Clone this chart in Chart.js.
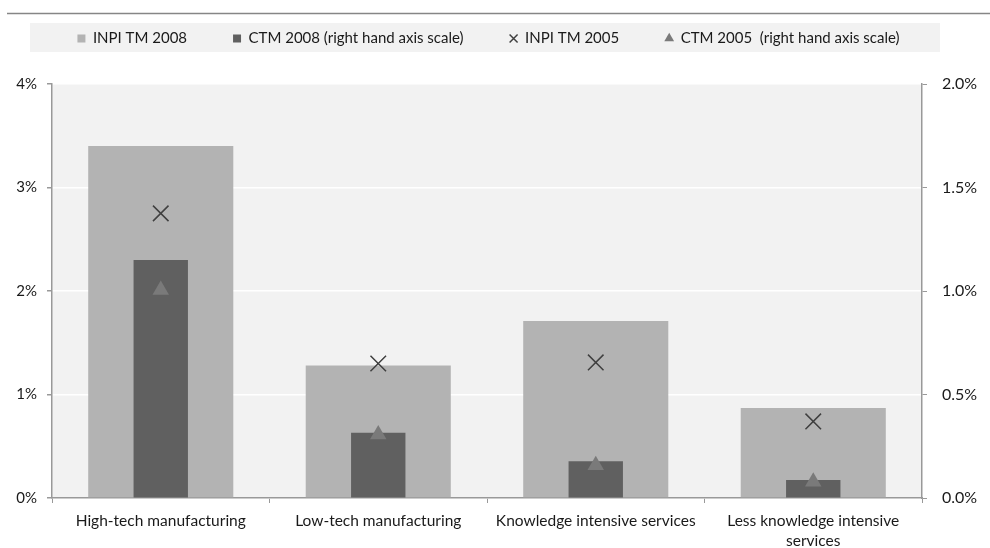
<!DOCTYPE html>
<html>
<head>
<meta charset="utf-8">
<script src="https://cdn.jsdelivr.net/npm/chart.js@4"></script>
<style>
html,body{margin:0;padding:0;background:#fff;}
#wrap{width:990px;height:548px;}
</style>
</head>
<body>
<div id="wrap"><canvas id="c" width="990" height="548"></canvas></div>
<script>
const categories = ["High-tech manufacturing", "Low-tech manufacturing", "Knowledge intensive services", ["Less knowledge intensive", "services"]];
const inpi2008 = [3.40, 1.28, 1.71, 0.87];      // left axis, %
const ctm2008 = [1.15, 0.315, 0.177, 0.087];    // right axis, %
const inpi2005 = [2.75, 1.30, 1.31, 0.74];      // left axis, %
const ctm2005 = [1.005, 0.307, 0.158, 0.078];   // right axis, %
const leftTicks = [0, 1, 2, 3, 4];
const rightTicks = [0, 0.5, 1.0, 1.5, 2.0];

const FONT = "Lato";
const TOP_PAD = -15;

const legendMargin = {
  id: 'legendMargin',
  beforeInit(chart) {
    const orig = chart.legend.fit;
    chart.legend.fit = function () {
      orig.call(this);
      this.height = 84 - TOP_PAD;
    };
  }
};

const decor = {
  id: 'decor',
  beforeDraw(chart) {
    const ctx = chart.ctx;
    const a = chart.chartArea;
    ctx.save();
    ctx.fillStyle = '#f2f2f2';
    ctx.fillRect(a.left, a.top, a.right - a.left, a.bottom - a.top);
    ctx.fillRect(30, 23, 910, 29);
    ctx.strokeStyle = '#868686';
    ctx.lineWidth = 1.5;
    ctx.beginPath();
    ctx.moveTo(7, 13.5);
    ctx.lineTo(990, 13.5);
    ctx.stroke();
    ctx.restore();
  }
};

new Chart(document.getElementById('c'), {
  data: {
    labels: categories,
    datasets: [
      { type: 'bar', label: 'INPI TM 2008', data: inpi2008, yAxisID: 'y',
        backgroundColor: '#b3b3b3', borderWidth: 0, pointStyle: 'rect',
        barPercentage: 0.667, categoryPercentage: 1, grouped: false, order: 4 },
      { type: 'bar', label: 'CTM 2008 (right hand axis scale)', data: ctm2008, yAxisID: 'y1',
        backgroundColor: '#606060', borderWidth: 0, pointStyle: 'rect',
        barPercentage: 0.25, categoryPercentage: 1, grouped: false, order: 3 },
      { type: 'line', label: 'INPI TM 2005', data: inpi2005, yAxisID: 'y', showLine: false,
        pointStyle: 'crossRot', pointRadius: 11, pointBorderWidth: 1.5,
        borderColor: '#404040', backgroundColor: '#404040',
        pointBorderColor: '#404040', pointBackgroundColor: '#404040', order: 2 },
      { type: 'line', label: 'CTM 2005  (right hand axis scale)', data: ctm2005, yAxisID: 'y1', showLine: false,
        pointStyle: 'triangle', pointRadius: 9.5, pointBorderWidth: 0,
        borderColor: '#7a7a7a', backgroundColor: '#7a7a7a',
        pointBorderColor: '#7a7a7a', pointBackgroundColor: '#7a7a7a', order: 1 }
    ]
  },
  options: {
    responsive: false,
    animation: false,
    layout: { padding: { top: TOP_PAD, left: 0, right: 13, bottom: 0 } },
    plugins: {
      legend: {
        position: 'top',
        labels: {
          usePointStyle: true, boxWidth: 8, boxHeight: 8, padding: 46,
          color: '#1a1a1a', font: { family: FONT, size: 15 },
          sort: (a, b) => a.datasetIndex - b.datasetIndex
        }
      },
      tooltip: { enabled: false }
    },
    scales: {
      x: {
        type: 'category',
        offset: true,
        grid: { display: true, offset: true, drawOnChartArea: false, drawTicks: true,
                tickLength: 5, tickColor: '#999', color: '#999' },
        border: { display: true, color: '#999', width: 1.5 },
        ticks: { color: '#1a1a1a', font: { family: FONT, size: 15.5, lineHeight: 1.3 },
                 maxRotation: 0, autoSkip: false, padding: 8 },
        afterFit(s) { s.height = 50; }
      },
      y: {
        position: 'left',
        min: 0, max: 4,
        afterBuildTicks(s) { s.ticks = leftTicks.map(v => ({ value: v })); },
        grid: { color: '#ffffff', lineWidth: 1.5, tickLength: 5, tickColor: '#999' },
        border: { display: true, color: '#999', width: 1.5 },
        ticks: { color: '#1a1a1a', font: { family: FONT, size: 15 }, padding: 10,
                 callback: v => v + '%' },
        afterFit(s) { s.width = 52; }
      },
      y1: {
        position: 'right',
        min: 0, max: 2,
        afterBuildTicks(s) { s.ticks = rightTicks.map(v => ({ value: v })); },
        grid: { drawOnChartArea: false, tickLength: 5, tickColor: '#999', color: '#999' },
        border: { display: true, color: '#999', width: 1.5 },
        ticks: { color: '#1a1a1a', font: { family: FONT, size: 16 }, padding: 15,
                 callback: v => Number(v).toFixed(1) + '%' },
        afterFit(s) { s.width = 55; }
      }
    }
  },
  plugins: [legendMargin, decor]
});
</script>
</body>
</html>
